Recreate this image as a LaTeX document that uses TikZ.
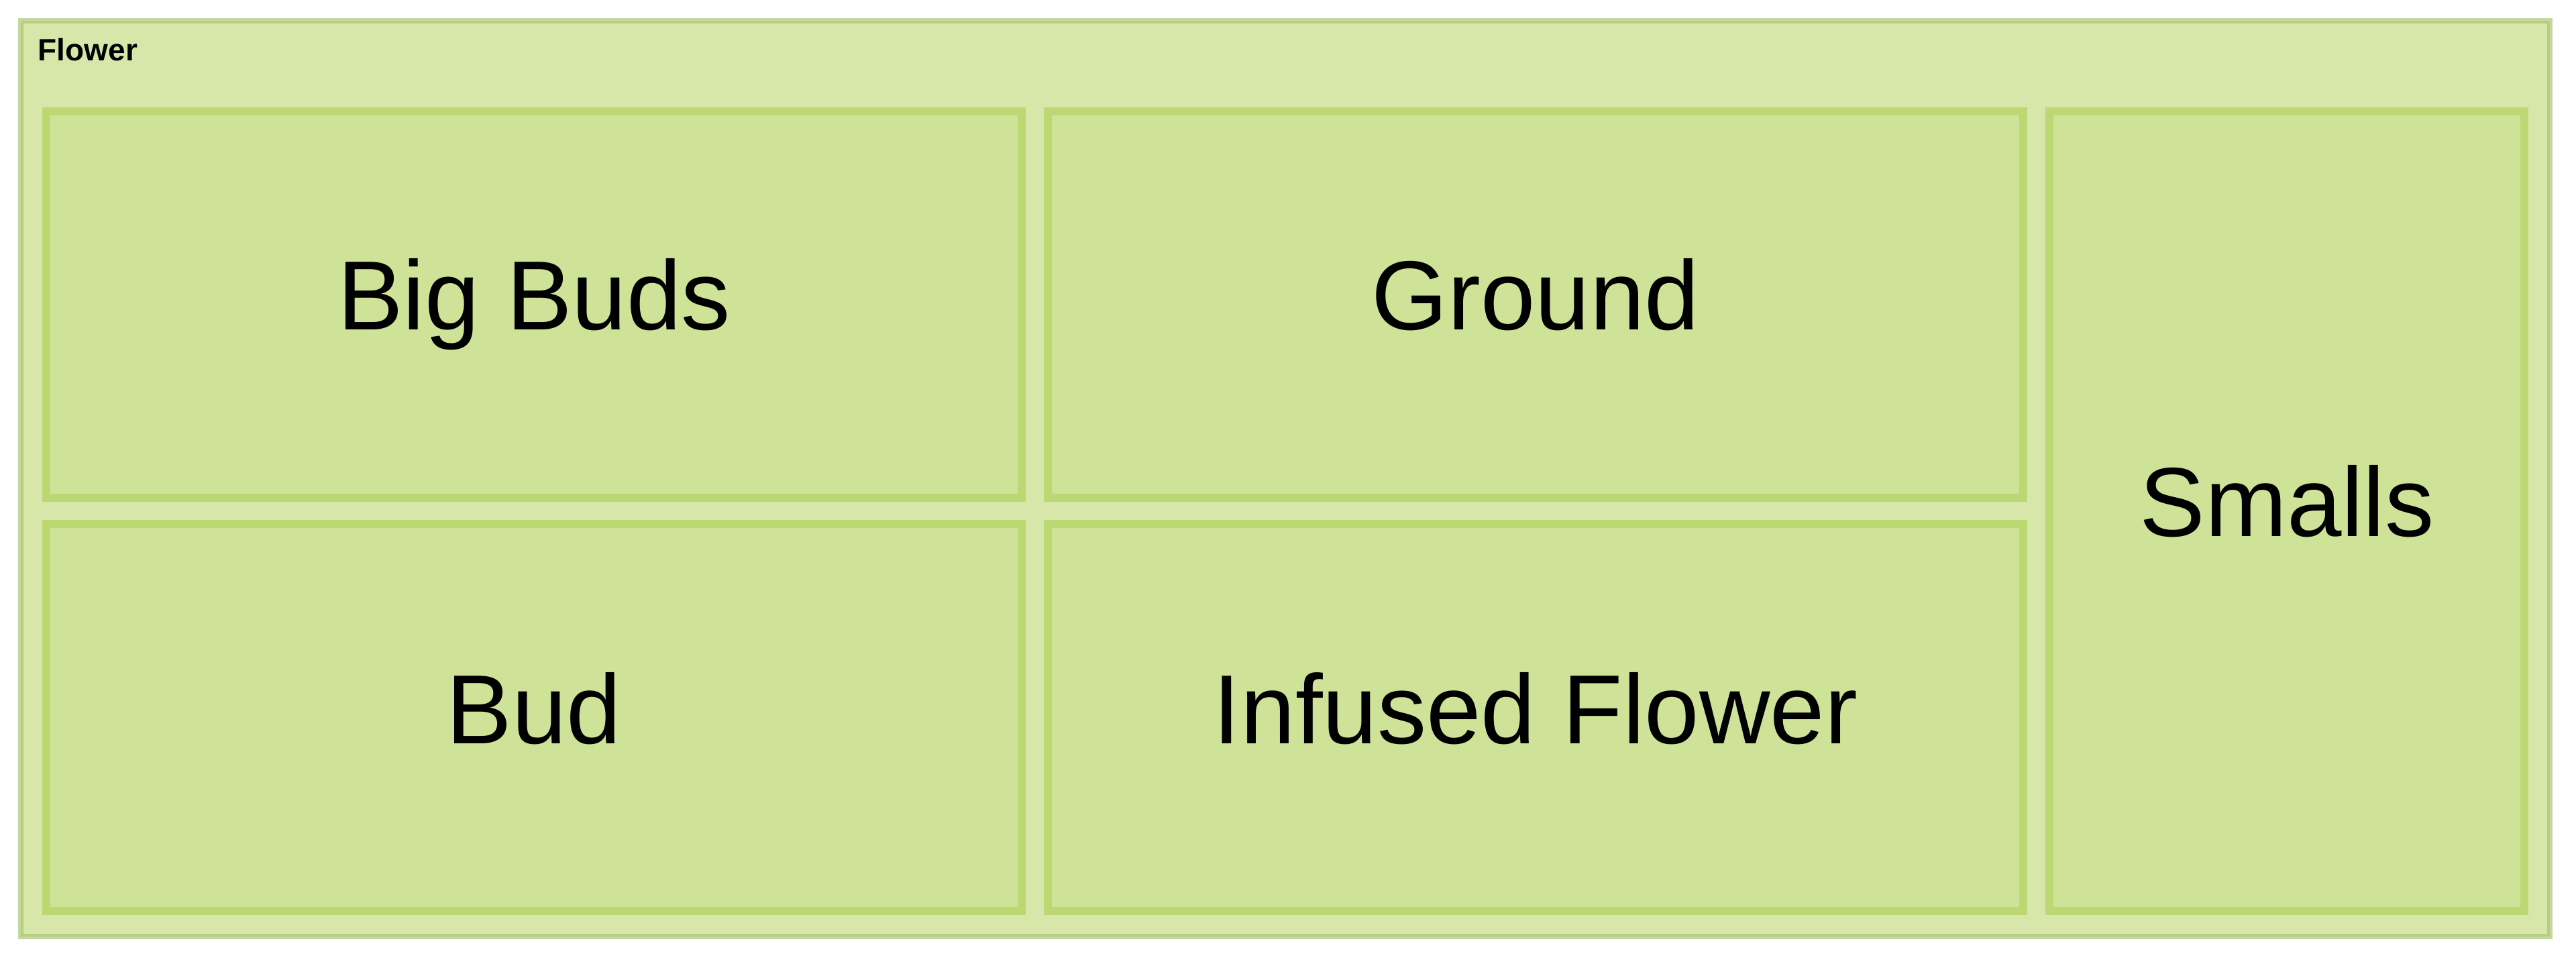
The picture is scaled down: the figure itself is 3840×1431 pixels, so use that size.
\documentclass[tikz,border=0pt]{standalone}
\usepackage{fontspec}
\setmainfont{Liberation Sans}
\definecolor{outerfill}{RGB}{214,231,169}
\definecolor{outerpale}{RGB}{199,214,160}
\definecolor{outermid}{RGB}{181,206,127}
\definecolor{boxfill}{RGB}{206,227,152}
\definecolor{boxline}{RGB}{187,216,114}
\tikzset{
  catbox/.style={fill=boxfill, draw=boxline, line width=3pt},
  catlabel/.style={anchor=base, inner sep=0pt, font=\fontsize{36.6}{44}\selectfont, text=black},
  grouplabel/.style={anchor=base west, inner sep=0pt, font=\fontsize{11.5}{14}\selectfont\bfseries, text=black}
}
\begin{document}
\begin{tikzpicture}[x=0.25pt, y=-0.25pt]
\useasboundingbox[fill=white] (0,0) rectangle (3840,1431);
% outer group
\fill[outerfill] (27,27) rectangle (3805,1400);
\draw[outerpale, line width=1pt] (29,29) rectangle (3803,1398);
\draw[outermid, line width=1pt] (33,33) rectangle (3799,1394);
\node[grouplabel] (flower) at (56,91) {Flower};
% boxes
\draw[catbox] (69,166) rectangle (1523,742);
\draw[catbox] (69,781) rectangle (1523,1358);
\draw[catbox] (1562,166) rectangle (3016,742);
\draw[catbox] (1562,781) rectangle (3016,1358);
\draw[catbox] (3055,166) rectangle (3763,1358);
\node[catlabel] (bigbuds) at (796,492) {Big Buds};
\node[catlabel] (bud) at (796,1108) {Bud};
\node[catlabel] (ground) at (2289,492) {Ground};
\node[catlabel] (infused) at (2289,1108) {Infused Flower};
\node[catlabel] (smalls) at (3409,800) {Smalls};
\end{tikzpicture}
\end{document}
